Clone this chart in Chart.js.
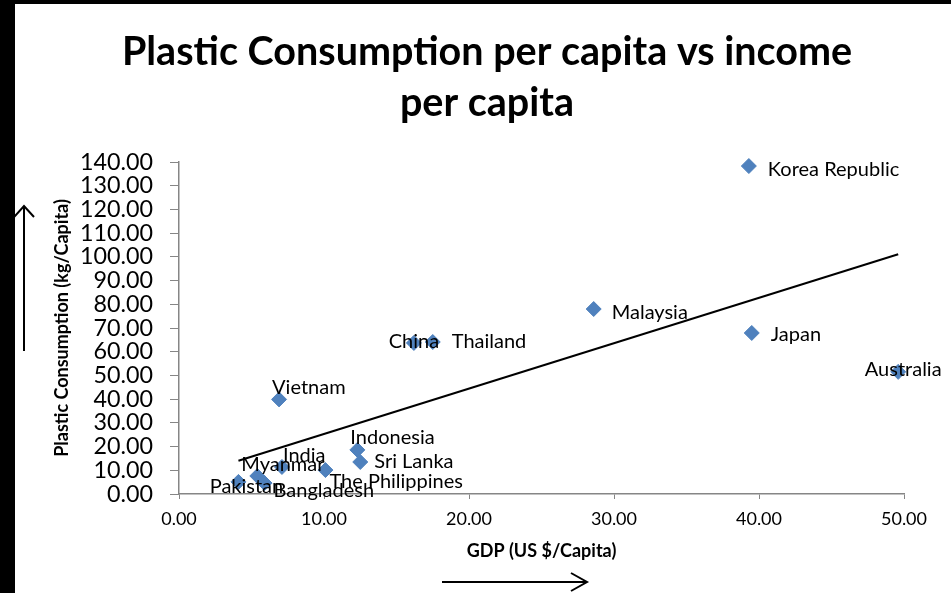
<!DOCTYPE html>
<html>
<head>
<meta charset="utf-8">
<script src="https://cdn.jsdelivr.net/npm/chart.js@4.4.1/dist/chart.umd.min.js"></script>
<style>
  html, body { margin: 0; padding: 0; background: #000; width: 951px; height: 593px; overflow: hidden; }
  #frame { position: absolute; left: 15px; top: 4px; width: 936px; height: 589px; background: #fff; }
  canvas { display: block; }
</style>
</head>
<body>
<div id="frame"><canvas id="chart" width="936" height="589"></canvas></div>
<script>
// Country data: GDP (US $/capita, thousands) vs plastic consumption (kg/capita)
const countries = ['Korea Republic', 'Malaysia', 'Japan', 'Australia', 'China', 'Thailand', 'Vietnam',
                   'Indonesia', 'Sri Lanka', 'The Philippines', 'India', 'Myanmar', 'Pakistan', 'Bangladesh'];
const gdp      = [39.3, 28.6, 39.5, 49.6, 16.2, 17.5, 6.9, 12.3, 12.5, 10.1, 7.1, 5.4, 4.1, 5.9];
const plastic  = [138.3, 78.0, 67.9, 51.5, 63.7, 64.1, 39.9, 18.6, 13.5, 10.1, 11.4, 7.6, 5.1, 4.6];

// Axis tick values
const xTickValues = [0, 10, 20, 30, 40, 50];
const yTickValues = [0, 10, 20, 30, 40, 50, 60, 70, 80, 90, 100, 110, 120, 130, 140];

const titleLines = ['Plastic Consumption per capita vs income', 'per capita'];

// Where each country's name sits relative to its marker: [dx, dy, textAlign]
const labelPlacement = {
  'Korea Republic': [19, 4, 'left'],
  'Malaysia': [18, 4, 'left'],
  'Japan': [19, 2, 'left'],
  'Australia': [5, -2, 'center'],
  'China': [0, -1, 'center'],
  'Thailand': [19, 0, 'left'],
  'Vietnam': [-7, -12, 'left'],
  'Indonesia': [-7, -12, 'left'],
  'Sri Lanka': [14, 0, 'left'],
  'The Philippines': [4, 11, 'left'],
  'India': [1, -11, 'left'],
  'Myanmar': [-16, -11, 'left'],
  'Pakistan': [8, 5, 'center'],
  'Bangladesh': [9, 7, 'left']
};

// Least-squares linear trend through the country points
function linearFit(xs, ys) {
  const n = xs.length;
  const mx = xs.reduce((a, b) => a + b, 0) / n;
  const my = ys.reduce((a, b) => a + b, 0) / n;
  let sxy = 0, sxx = 0;
  for (let i = 0; i < n; i++) { sxy += (xs[i] - mx) * (ys[i] - my); sxx += (xs[i] - mx) ** 2; }
  const slope = sxy / sxx;
  return { slope, intercept: my - slope * mx };
}
const fit = linearFit(gdp, plastic);
const xLo = Math.min(...gdp), xHi = Math.max(...gdp);
const trendPoints = [xLo, xHi].map(x => ({ x, y: fit.intercept + fit.slope * x }));

const FONT = 'Lato, "Open Sans", sans-serif';
const AXIS_GREY = '#868686';

const titlePlugin = {
  id: 'twoLineTitle',
  afterDraw(chart) {
    const ctx = chart.ctx;
    ctx.save();
    ctx.fillStyle = '#000';
    ctx.font = 'bold 39.5px ' + FONT;
    ctx.textAlign = 'center';
    ctx.textBaseline = 'middle';
    const cx = chart.width / 2 + 4;
    titleLines.forEach((line, i) => ctx.fillText(line, cx, 48 + i * 51));
    ctx.restore();
  }
};

const pointLabels = {
  id: 'pointLabels',
  afterDatasetsDraw(chart) {
    const ctx = chart.ctx;
    const meta = chart.getDatasetMeta(0);
    ctx.save();
    ctx.fillStyle = '#000';
    ctx.font = '20px ' + FONT;
    ctx.textBaseline = 'middle';
    meta.data.forEach((pt, i) => {
      const name = countries[i];
      const [dx, dy, align] = labelPlacement[name];
      ctx.textAlign = align;
      ctx.fillText(name, pt.x + dx, pt.y + dy);
    });
    ctx.restore();
  }
};

const arrows = {
  id: 'arrows',
  afterDraw(chart) {
    const ctx = chart.ctx;
    ctx.save();
    ctx.strokeStyle = '#000';
    ctx.lineWidth = 2;
    // upward arrow beside the vertical axis title
    ctx.beginPath();
    ctx.moveTo(9, 347); ctx.lineTo(9, 202);
    ctx.moveTo(-1, 213); ctx.lineTo(9, 202); ctx.lineTo(19, 213);
    ctx.stroke();
    // rightward arrow under the horizontal axis title
    ctx.beginPath();
    ctx.moveTo(427, 578); ctx.lineTo(572, 578);
    ctx.moveTo(556, 569); ctx.lineTo(572, 578); ctx.lineTo(556, 587);
    ctx.stroke();
    ctx.restore();
  }
};

new Chart(document.getElementById('chart'), {
  type: 'scatter',
  data: {
    datasets: [
      {
        label: 'Countries',
        data: countries.map((c, i) => ({ x: gdp[i], y: plastic[i] })),
        pointStyle: 'rectRot',
        pointRadius: 7.5,
        backgroundColor: '#4F81BD',
        borderColor: '#4F81BD',
        borderWidth: 1,
        clip: false,
        order: 1
      },
      {
        type: 'line',
        label: 'Linear trend',
        data: trendPoints,
        borderColor: '#000',
        borderWidth: 2,
        pointRadius: 0,
        fill: false,
        order: 0
      }
    ]
  },
  options: {
    responsive: false,
    animation: false,
    layout: { padding: { top: 158, right: 47, left: 0, bottom: 0 } },
    plugins: {
      legend: { display: false },
      tooltip: { enabled: false },
      title: { display: false }
    },
    scales: {
      x: {
        type: 'linear',
        min: xTickValues[0],
        max: xTickValues[xTickValues.length - 1],
        afterBuildTicks: s => { s.ticks = xTickValues.map(v => ({ value: v })); },
        afterFit: s => { s.height = 99; },
        ticks: {
          callback: v => Number(v).toFixed(2),
          color: '#000',
          font: { family: FONT, size: 18 },
          padding: 9,
          maxRotation: 0,
          autoSkip: false
        },
        grid: { drawOnChartArea: false, drawTicks: true, tickLength: 5, color: AXIS_GREY },
        border: { color: AXIS_GREY, width: 1.5 },
        title: {
          display: true,
          text: 'GDP (US $/Capita)',
          color: '#000',
          font: { family: FONT, size: 18, weight: 'bold' },
          padding: { top: 0, bottom: 31.2 }
        }
      },
      y: {
        type: 'linear',
        min: yTickValues[0],
        max: yTickValues[yTickValues.length - 1],
        afterBuildTicks: s => { s.ticks = yTickValues.map(v => ({ value: v })); },
        afterFit: s => { s.width = 164; },
        ticks: {
          callback: v => Number(v).toFixed(2),
          color: '#000',
          font: { family: FONT, size: 23.3 },
          padding: 17,
          autoSkip: false
        },
        grid: { drawOnChartArea: false, drawTicks: true, tickLength: 9, color: AXIS_GREY },
        border: { color: AXIS_GREY, width: 1.5 },
        title: {
          display: true,
          text: 'Plastic Consumption (kg/Capita)',
          color: '#000',
          font: { family: FONT, size: 18, weight: 'bold' },
          padding: { top: 36.2, bottom: 0 }
        }
      }
    }
  },
  plugins: [titlePlugin, pointLabels, arrows]
});
</script>
</body>
</html>
